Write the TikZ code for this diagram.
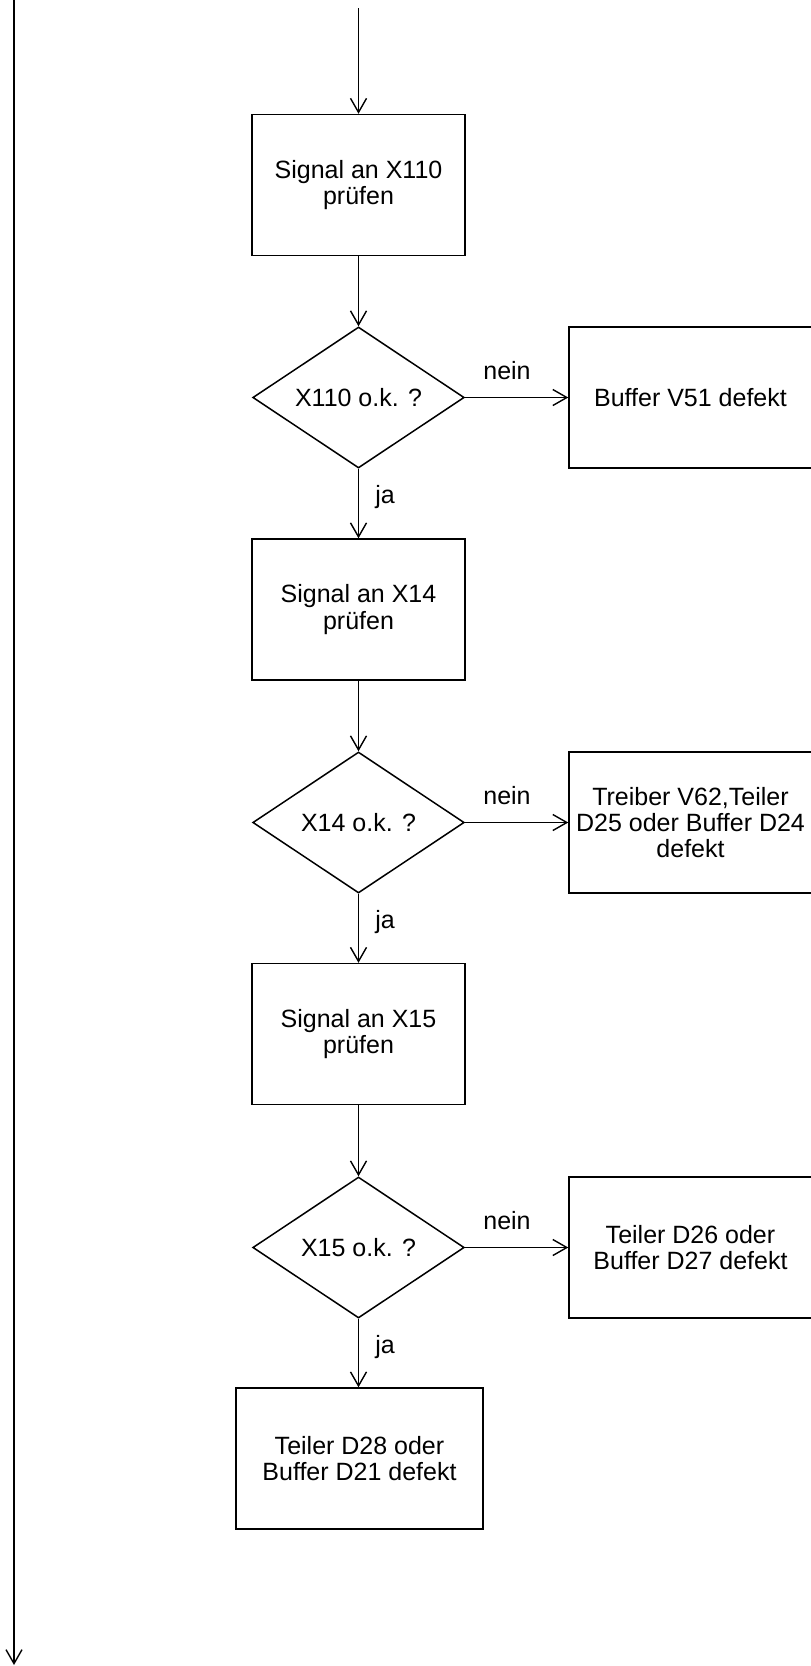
\documentclass[tikz,border=0pt]{standalone}
\usepackage{fontspec}
\setmainfont{Liberation Sans}
\usetikzlibrary{arrows.meta,shapes.geometric}
\begin{document}
\begin{tikzpicture}[x=0.5pt,y=-0.5pt,
  every node/.style={font=\fontsize{12.5}{13.2}\selectfont},
  box/.style={draw,line width=0.75pt,rectangle,inner sep=0pt,align=center,minimum width=106.5pt,minimum height=70.5pt},
  rbox/.style={draw,line width=0.75pt,rectangle,inner sep=0pt,align=center,minimum width=121.5pt,minimum height=70.5pt},
  dec/.style={draw,line width=0.75pt,diamond,aspect=1.5,inner sep=0pt,minimum width=105.75pt,minimum height=70.5pt},
  lbl/.style={inner sep=0pt,anchor=base},
  arr/.style={line width=0.7pt,-{Straight Barb[length=7pt,width=8pt,line width=0.7pt]}}]
\useasboundingbox (0,0) rectangle (810,1666);
% left return line
\coordinate (ltop) at (14,0);
\coordinate (lbot) at (14,1665);
\draw[arr] (ltop) -- (lbot);
% main column
\coordinate (start) at (358.5,8);
\node[box] (b1) at (358.5,185) {Signal an X110\\prüfen};
\node[dec] (d1) at (358.5,397.5) {X110 o.k. ?};
\node[rbox] (r1) at (690.5,397.5) {Buffer V51 defekt};
\node[box] (b2) at (358.5,609.5) {Signal an X14\\prüfen};
\node[dec] (d2) at (358.5,822.5) {X14 o.k. ?};
\node[rbox] (r2) at (690.5,822.5) {Treiber V62,Teiler\\D25 oder Buffer D24\\defekt};
\node[box] (b3) at (358.5,1034) {Signal an X15\\prüfen};
\node[dec] (d3) at (358.5,1247.5) {X15 o.k. ?};
\node[rbox] (r3) at (690.5,1247.5) {Teiler D26 oder\\Buffer D27 defekt};
\node[box,minimum width=123.5pt] (b4) at (359.5,1458.5) {Teiler D28 oder\\Buffer D21 defekt};
% connectors
\draw[arr] (start) -- (b1.north);
\draw[arr] (b1.south) -- (d1.north);
\draw[arr] (d1.east) -- (r1.west);
\draw[arr] (d1.south) -- (b2.north);
\draw[arr] (b2.south) -- (d2.north);
\draw[arr] (d2.east) -- (r2.west);
\draw[arr] (d2.south) -- (b3.north);
\draw[arr] (b3.south) -- (d3.north);
\draw[arr] (d3.east) -- (r3.west);
\draw[arr] (d3.south) -- (b4.north -| d3.south);
% labels
\node[lbl] (n1) at (507,379.5) {nein};
\node[lbl] (n2) at (507,804.5) {nein};
\node[lbl] (n3) at (507,1229.5) {nein};
\node[lbl] (j1) at (385,503) {ja};
\node[lbl] (j2) at (385,928) {ja};
\node[lbl] (j3) at (385,1353) {ja};
\end{tikzpicture}
\end{document}
